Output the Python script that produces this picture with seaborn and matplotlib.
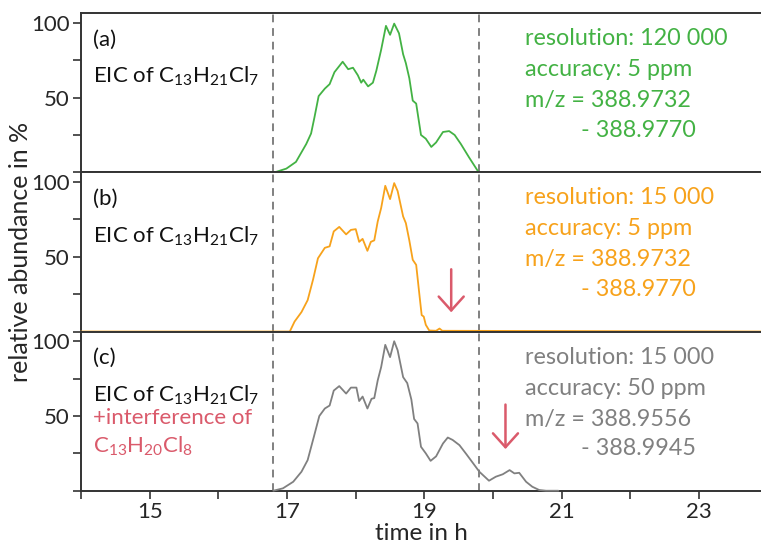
import matplotlib
matplotlib.use("Agg")
import matplotlib.pyplot as plt
import seaborn as sns
import pandas as pd

# retention time (h) and relative abundance (%)
time_a = [16.82, 16.99, 17.13, 17.28, 17.35, 17.40, 17.46, 17.55, 17.62, 17.69,
          17.81, 17.89, 17.96, 18.03, 18.08, 18.11, 18.18, 18.25, 18.30, 18.37,
          18.44, 18.50, 18.56, 18.63, 18.69, 18.73, 18.78, 18.83, 18.88, 18.95,
          19.02, 19.10, 19.17, 19.27, 19.36, 19.44, 19.53, 19.65, 19.79]
abund_a = [0, 2.5, 7, 19, 26, 37, 51, 56, 59, 67,
           74, 69, 70, 65, 60, 62, 57.5, 60, 68, 82,
           98, 92, 99.5, 93, 79, 73, 63, 48, 46, 25,
           22.5, 17, 20, 27, 27.6, 25, 19, 10, 0]

time_b = [14.0, 17.04, 17.11, 17.21, 17.30, 17.38, 17.45, 17.55, 17.62, 17.68,
          17.76, 17.86, 17.93, 18.00, 18.05, 18.10, 18.17, 18.22, 18.27, 18.32,
          18.37, 18.43, 18.50, 18.56, 18.61, 18.69, 18.73, 18.78, 18.83, 18.88,
          18.93, 18.96, 18.99, 19.02, 19.07, 19.17, 19.22, 19.26, 24.0]
abund_b = [0, 0, 6.7, 13, 21, 35, 49, 56, 57, 67,
           70, 65, 68, 68.5, 60, 62, 54, 60, 61, 73.6,
           82.6, 97.5, 88.6, 99.3, 94, 77, 72.5, 61, 48, 44.6,
           23.4, 11, 10, 4.5, 0.7, 0.5, 2, 0.5, 0]

time_c = [16.80, 16.94, 17.09, 17.21, 17.30, 17.39, 17.47, 17.55, 17.62, 17.68,
          17.76, 17.86, 17.93, 18.01, 18.05, 18.10, 18.17, 18.23, 18.27, 18.32,
          18.37, 18.43, 18.50, 18.56, 18.61, 18.69, 18.75, 18.81, 18.85, 18.90,
          18.95, 19.02, 19.09, 19.17, 19.27, 19.34, 19.41, 19.51, 19.61, 19.71,
          19.80, 19.94, 20.04, 20.14, 20.24, 20.31, 20.38, 20.48, 20.57, 20.67,
          20.77, 20.95]
abund_c = [0, 1.6, 6, 12.7, 20.5, 36, 50, 55, 57, 67,
           70, 65, 69, 69, 60, 63, 55, 61.5, 62, 73.8,
           82.7, 97.6, 89.4, 100, 94, 76, 72, 61, 48, 45,
           29.4, 25, 20, 23, 31.6, 35.6, 34, 30.5, 24.5, 18.3,
           12.7, 6.7, 9.4, 11, 13.8, 11.6, 12, 6, 2.7, 0.5,
           0, 0]

panel_labels = ["(a)", "(b)", "(c)"]
resolutions = ["120 000", "15 000", "15 000"]
accuracies = ["5 ppm", "5 ppm", "50 ppm"]
mz_low = ["388.9732", "388.9732", "388.9556"]
mz_high = ["388.9770", "388.9770", "388.9945"]
window = [16.8, 19.8]          # integration window (dashed lines)
arrow_time = [None, 19.39, 20.18]
arrow_from = [None, 43.5, 59.5]
arrow_to = [None, 11, 26]

colors = ["#43b244", "#f7a21b", "#808080"]
red = "#da5a6b"

sns.set_style("ticks")
plt.rcParams["font.family"] = ["Lato", "DejaVu Sans"]
plt.rcParams["mathtext.default"] = "regular"

fig, axes = plt.subplots(3, 1, figsize=(7.61, 5.48), dpi=100, sharex=True)
fig.subplots_adjust(left=0.1064, right=1.0, top=0.976, bottom=0.1045, hspace=0)

fs = 16.8
series = [(time_a, abund_a), (time_b, abund_b), (time_c, abund_c)]
for i, ax in enumerate(axes):
    df = pd.DataFrame({"t": series[i][0], "v": series[i][1]})
    sns.lineplot(data=df, x="t", y="v", ax=ax, color=colors[i], lw=1.3,
                 zorder=3, clip_on=False)
    for w in window:
        ax.axvline(w, color="#808080", ls=(0, (4, 3)), lw=1.4, zorder=1)

    ax.set_xlim(14, 23.9)
    ax.set_ylim(0, 106.5)
    ax.set_yticks([0, 25, 50, 75, 100])
    ax.set_yticklabels(["", "", "50", "", "100"])
    ax.set_xticks(range(14, 24))
    ax.set_xticklabels(["" if k % 2 == 0 else str(k) for k in range(14, 24)])
    ax.set_xlabel("")
    ax.set_ylabel("")
    ax.tick_params(axis="both", direction="out", length=6, width=1.1,
                   color="#222222", labelsize=16, pad=2)
    for s in ["left", "top", "bottom"]:
        ax.spines[s].set_color("#333333")
        ax.spines[s].set_linewidth(1.4)
    ax.spines["right"].set_visible(False)

    # left annotations
    ax.text(0.018, 0.835, panel_labels[i], transform=ax.transAxes,
            fontsize=16, va="center", color="#111111")
    ax.text(0.018, 0.60, "EIC of C$_{13}$H$_{21}$Cl$_{7}$", transform=ax.transAxes,
            fontsize=16, va="center", color="#111111")

    # right annotations
    ax.text(0.653, 0.84, "resolution: " + resolutions[i], transform=ax.transAxes,
            fontsize=fs, va="center", color=colors[i])
    ax.text(0.653, 0.645, "accuracy: " + accuracies[i], transform=ax.transAxes,
            fontsize=fs, va="center", color=colors[i])
    ax.text(0.653, 0.45, "m/z = " + mz_low[i], transform=ax.transAxes,
            fontsize=fs, va="center", color=colors[i])
    ax.text(0.735, 0.265, "- " + mz_high[i], transform=ax.transAxes,
            fontsize=fs, va="center", color=colors[i])

    if arrow_time[i] is not None:
        ax.annotate("", xy=(arrow_time[i], arrow_to[i]),
                    xytext=(arrow_time[i], arrow_from[i]),
                    arrowprops=dict(arrowstyle="->,head_length=0.5,head_width=0.45",
                                    color=red, lw=1.8, mutation_scale=20))

axes[2].text(0.018, 0.46, "+interference of", transform=axes[2].transAxes,
             fontsize=16, va="center", color=red)
axes[2].text(0.018, 0.28, "C$_{13}$H$_{20}$Cl$_{8}$", transform=axes[2].transAxes,
             fontsize=16, va="center", color=red)

axes[2].set_xlabel("time in h", fontsize=17.5, labelpad=1)
fig.text(0.027, 0.54, "relative abundance in %", rotation=90, fontsize=18,
         va="center", ha="center")

fig.savefig("out.png", dpi=100)
